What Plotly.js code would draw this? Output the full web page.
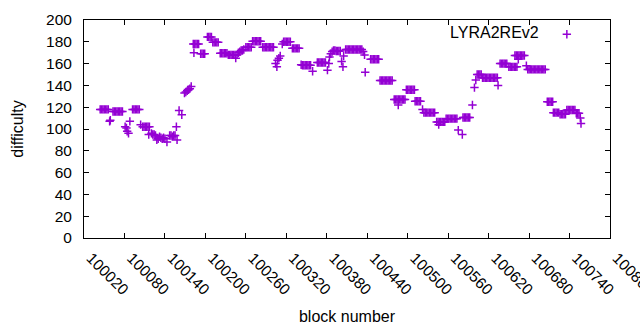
<!DOCTYPE html>
<html>
<head>
<meta charset="utf-8">
<script src="https://cdn.plot.ly/plotly-3.0.1.min.js"></script>
<style>html,body{margin:0;padding:0;background:#fff}#chart{width:640px;height:330px}</style>
</head>
<body>
<div id="chart"></div>
<script>
// block numbers (x) and difficulty (y)
const blocks = [
  100044,100046,100048,100050,100052,100054,100056,
  100058,100059,
  100063,100065,100067,100069,100071,100073,100075,100077,
  100081,100083,100084,100086,100088,
  100092,100094,100096,100098,100100,100102,
  100104,
  100107,100109,100111,100113,100115,100117,100116,
  100120,100122,100124,100126,100128,100130,100132,100134,100136,100138,100140,100143,
  100147,100149,100151,100153,100155,100158,100157,100161,100165,
  100169,100171,100173,100175,100177,100179,
  100182,100183,100184,100186,100188,100190,
  100193,100195,100197,100199,
  100203,100205,100207,100209,
  100211,100213,100215,100217,100219,
  100222,100224,100226,100228,100230,100232,
  100234,100236,100238,100240,100242,100244,100245,
  100247,100249,100251,100253,100255,100257,
  100260,100262,100264,100266,100268,
  100270,100272,100274,100276,100278,100280,100282,
  100285,100287,100289,100291,100293,100295,100297,100299,100301,
  100304,100306,100307,100309,100311,
  100314,100316,100318,100320,100322,100324,100326,
  100329,100331,100333,100335,100337,100339,
  100342,100344,100346,100348,100350,100352,100354,100356,
  100359,
  100366,100368,100370,100372,100374,100376,100378,
  100381,100383,
  100384,100386,100388,100390,100392,100394,100396,100398,100400,
  100402,100404,100405,
  100408,100410,100412,100414,100416,100418,100420,100422,100424,100426,100428,100430,100432,
  100434,100436,100437,
  100445,100447,100449,100451,100453,100455,100457,
  100459,100461,100463,100465,100467,100469,100471,100473,100475,100477,
  100480,100482,100484,100486,100488,100490,100492,100494,100496,100486,
  100498,100500,100502,100504,100506,100508,100510,
  100511,100513,100515,100517,100519,
  100522,100524,100526,100528,100530,100532,100534,100536,100538,100540,
  100543,100545,100547,100549,100551,100553,100555,100546,
  100557,100559,100561,100563,100565,100567,100569,100571,100573,
  100575,100581,100582,100584,100586,100588,100590,100592,
  100596,100599,100601,
  100603,100605,100607,100609,
  100611,100613,100615,100617,100619,100621,100623,100625,100627,100629,100631,100633,
  100634,
  100637,100639,100641,100643,100645,100647,
  100650,100652,100654,100656,100658,100660,100662,
  100659,100661,100663,100665,100667,100669,100671,100673,100664,
  100676,100678,100680,100682,100684,100686,100688,100690,100692,100694,100696,100698,100700,100702,100704,
  100707,100709,100711,100713,100715,
  100716,100718,100720,100722,100724,
  100726,100728,100730,100732,100734,
  100736,100738,100740,100742,100744,100746,100748,
  100750,100752,100754,100756,100757
];
const difficulty = [
  118,118,118,118,118,118,118,
  107,108,
  116,116,116,116,116,116,116,116,
  102,101,98,96,107,
  118,118,118,118,118,118,
  104,
  102,102,102,102,102,102,95,
  96,95,95,94,90,91,93,92,91,92,91,88,
  94,94,93,94,94,90,102,117,113,
  133,134,135,136,137,139,
  178,170,178,178,178,178,
  169,169,169,169,
  184.5,184.5,184.5,184.5,
  179.5,179.5,179.5,179.5,179.5,
  169.5,169.5,169.5,169.5,169.5,169.5,
  168,168,168,168,168,168,165,
  168,170,171,172,172,173,
  175,175,175,175,175,
  180.5,180.5,180.5,180.5,180.5,180.5,180.5,
  175,175,175,175,175,175,175,175,175,
  160,157,163,165,167,
  178,180,180,180,180,180,180,
  174,174,174,174,174,174,
  159,158.5,158.5,158.5,158.5,158.5,158.5,158.5,
  153,
  161,161,161,161,161,161,161,
  154,160,
  166,169,171,172,172,171.5,171.5,171.5,171.5,
  162,157,167,
  173,173,173,173,173,173,173,173,173,173,173,173,173,
  171,168,152,
  164,164,164,164,164,164,164,
  144.5,144.5,144.5,144.5,144.5,144.5,144.5,144.5,144.5,144.5,
  127,127,127,127,127,127,127,127,127,122,
  136,136,136,136,136,136,136,
  125.5,125.5,125.5,125.5,125.5,
  118,115,115,115,115,115,115,115,115,115,
  106.5,106.5,106.5,106.5,106.5,106.5,106.5,104,
  109.5,109.5,109.5,109.5,109.5,109.5,109.5,109.5,109.5,
  99,95,110.5,110.5,110.5,110.5,110.5,110.5,
  122,138,145,
  150,150,150,150,
  147,147,147,147,147,147,147,147,147,147,147,147,
  140,
  160,160,160,160,160,160,
  157,157,157,157,157,157,157,
  167.5,167.5,167.5,167.5,167.5,167.5,167.5,167.5,164,
  158,154.7,154.7,154.7,154.7,154.7,154.7,154.7,154.7,154.7,154.7,154.7,154.7,154.7,154.7,
  125,125,125,125,125,
  115,115,115,115,115,
  113.5,113.5,113.5,113.5,113.5,
  117.5,117.5,117.5,117.5,117.5,117.5,117.5,
  114.5,114.5,114.5,110,105
];
const seriesName = 'LYRA2REv2';
const xTicks = [100020,100080,100140,100200,100260,100320,100380,100440,100500,100560,100620,100680,100740,100800];
const yTicks = [0,20,40,60,80,100,120,140,160,180,200];

const FONT = 'Liberation Sans, Arial, sans-serif';
const trace = {
  type: 'scatter', mode: 'markers',
  x: blocks, y: difficulty,
  name: '',
  marker: {symbol: 'cross-thin', size: 6, color: '#9400d3', line: {color: '#9400d3', width: 1.5}},
  showlegend: true, hoverinfo: 'x+y'
};
const axisCommon = {
  showline: true, linecolor: '#000', linewidth: 1, mirror: 'ticks',
  ticks: 'inside', ticklen: 5, tickcolor: '#000', tickwidth: 1,
  showgrid: false, zeroline: false, ticklabeloverflow: 'allow',
  tickfont: {family: FONT, size: 15.5, color: '#000'}
};
const layout = {
  width: 640, height: 330,
  margin: {l: 84, r: 30.4, t: 19.8, b: 91.5},
  paper_bgcolor: '#fff', plot_bgcolor: '#fff',
  font: {family: FONT, size: 16, color: '#000'},
  xaxis: Object.assign({}, axisCommon, {
    range: [100020, 100800], tickmode: 'array', tickvals: xTicks, ticktext: xTicks.map(String),
    tickangle: 45, ticklabelstandoff: 4, ticklabelshift: 7,
    title: {text: 'block number', font: {family: FONT, size: 16}, standoff: 13}
  }),
  yaxis: Object.assign({}, axisCommon, {
    range: [0, 200], tickmode: 'array', tickvals: yTicks, ticktext: yTicks.map(String),
    ticklabelstandoff: 8,
    title: {text: 'difficulty', font: {family: FONT, size: 16}, standoff: 18}
  }),
  legend: {
    x: 0.966, xanchor: 'right', y: 1.012, yanchor: 'top',
    bgcolor: 'rgba(0,0,0,0)', borderwidth: 0,
    font: {family: FONT, size: 16},
    title: {text: seriesName, side: 'left', font: {family: FONT, size: 16}}
  }
};
Plotly.newPlot('chart', [trace], layout, {staticPlot: true});
</script>
</body>
</html>
